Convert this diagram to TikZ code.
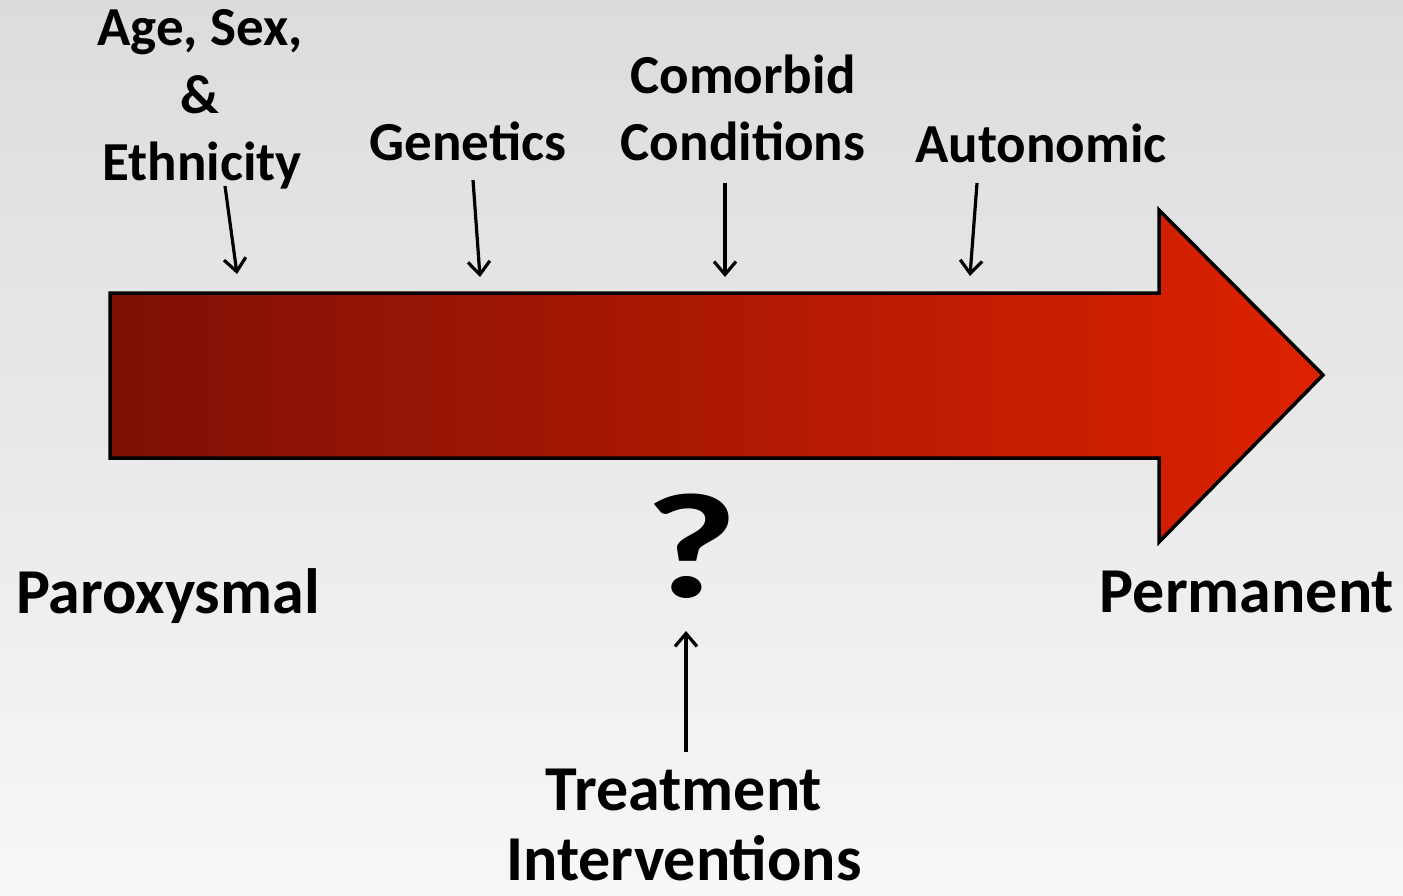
\documentclass[tikz,border=0pt]{standalone}
\usepackage{fontspec}
\setmainfont{Carlito}
\usetikzlibrary{arrows.meta}
\definecolor{bgtop}{HTML}{DCDCDC}
\definecolor{bgbot}{HTML}{F7F7F7}
\definecolor{reddark}{HTML}{7E1006}
\definecolor{redlight}{HTML}{DD2200}
\tikzset{
  lbl/.style={anchor=base, inner sep=0pt, font=\bfseries\fontsize{55bp}{60bp}\selectfont},
  biglbl/.style={anchor=base, inner sep=0pt, font=\bfseries\fontsize{64bp}{70bp}\selectfont},
  ptr/.style={line width=3.2bp, -{Straight Barb[length=13bp,width=22bp,line width=3.2bp]}},
}
\begin{document}
\begin{tikzpicture}[x=1bp,y=-1bp]
\useasboundingbox (0,0) rectangle (1403,895);
\shade[top color=bgtop, bottom color=bgbot] (0,0) rectangle (1403,895);
% big arrow
\shade[left color=reddark, right color=redlight, draw=black, line width=3.5bp, line join=miter]
  (110,293) -- (1159,293) -- (1159,210) -- (1323,375) -- (1159,542) -- (1159,458) -- (110,458) -- cycle;
\node (bigarrow) at (716,375) {};
% labels
\node[lbl] (age1) at (200,45) {Age, Sex,};
\node[lbl] (age2) at (200,113) {\&};
\node[lbl] (age3) at (202,180) {Ethnicity};
\node[lbl] (gen) at (468,160) {Genetics};
\node[lbl] (com1) at (743,93) {Comorbid};
\node[lbl] (com2) at (743,160) {Conditions};
\node[lbl] (aut) at (1041,162) {Autonomic};
\node[biglbl] (par) at (168,613) {Paroxysmal};
\node[biglbl] (per) at (1247,612) {Permanent};
\node[lbl, font=\bfseries\fontsize{150bp}{150bp}\selectfont] (q) at (691,597) {\scalebox{1.35}[1]{?}};
\node[biglbl] (tr1) at (684,810) {Treatment};
\node[biglbl, text depth=0pt] (tr2) at (684,880) {Interventions};
% connector end points
\coordinate (a1s) at (225,186);
\coordinate (a1e) at (237,274);
\coordinate (a2s) at (473,180);
\coordinate (a2e) at (480,277);
\coordinate (a3s) at (725,183);
\coordinate (a3e) at (725,277);
\coordinate (a4s) at (977,183);
\coordinate (a4e) at (970,276);
\coordinate (a5s) at (686,752);
\coordinate (a5e) at (686,631);
\draw[ptr] (a1s) -- (a1e);
\draw[ptr] (a2s) -- (a2e);
\draw[ptr] (a3s) -- (a3e);
\draw[ptr] (a4s) -- (a4e);
\draw[ptr] (a5s) -- (a5e);
\end{tikzpicture}
\end{document}
